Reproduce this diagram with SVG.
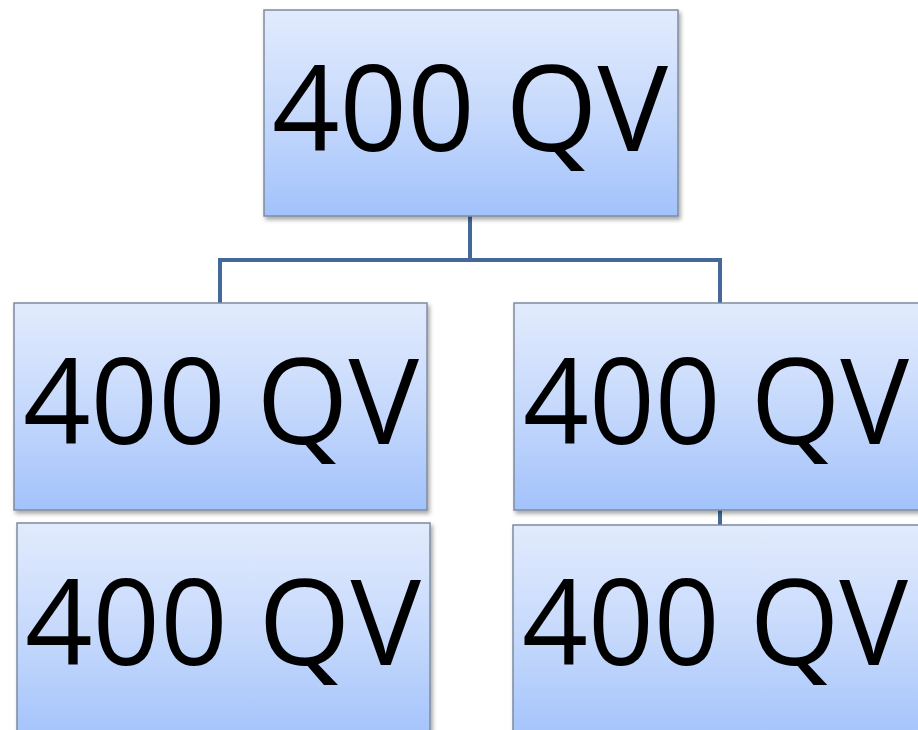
<svg xmlns="http://www.w3.org/2000/svg" width="918" height="730" viewBox="0 0 918 730">
<defs>
<linearGradient id="g" x1="0" y1="0" x2="0" y2="1">
<stop offset="0" stop-color="#e2ebfd"/>
<stop offset="0.5" stop-color="#c6d9fc"/>
<stop offset="1" stop-color="#a2c2fb"/>
</linearGradient>
<filter id="sh" x="-5%" y="-5%" width="115%" height="115%">
<feDropShadow dx="2" dy="3" stdDeviation="2" flood-color="#000" flood-opacity="0.35"/>
</filter>
</defs>
<style>
.box{fill:url(#g);stroke:#7d8ba0;stroke-width:1.5;filter:url(#sh)}
.lbl{font-family:"Open Sans","DejaVu Sans",sans-serif;font-size:119px;fill:#000}
.conn{fill:none;stroke:#44689a;stroke-width:4}
</style>
<rect width="918" height="730" fill="#fff"/>
<g id="connectors">
<path class="conn" d="M470 216 V260 M220 260 H720 M220 258 V303 M720 258 V303 M720 510 V525"/>
</g>
<g id="top">
<rect class="box" x="264" y="10" width="414" height="206"/>
<text class="lbl" x="272" y="151" textLength="396" lengthAdjust="spacingAndGlyphs">400 QV</text>
</g>
<g id="midLeft">
<rect class="box" x="14" y="303" width="413" height="207"/>
<text class="lbl" x="23" y="444" textLength="396" lengthAdjust="spacingAndGlyphs">400 QV</text>
</g>
<g id="midRight">
<rect class="box" x="514" y="303" width="420" height="207"/>
<text class="lbl" x="523" y="444" textLength="386" lengthAdjust="spacingAndGlyphs">400 QV</text>
</g>
<g id="botLeft">
<rect class="box" x="17" y="523" width="413" height="220"/>
<text class="lbl" x="25" y="665" textLength="396" lengthAdjust="spacingAndGlyphs">400 QV</text>
</g>
<g id="botRight">
<rect class="box" x="513" y="525" width="420" height="220"/>
<text class="lbl" x="522" y="665" textLength="386" lengthAdjust="spacingAndGlyphs">400 QV</text>
</g>
</svg>
